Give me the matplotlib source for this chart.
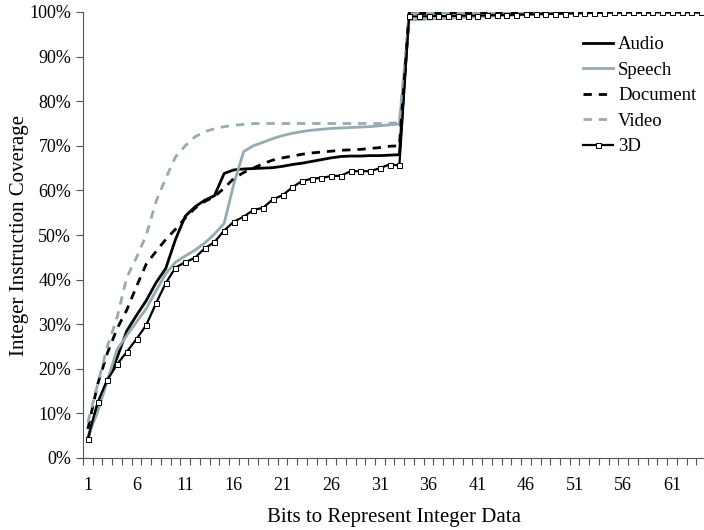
import numpy as np
import matplotlib
matplotlib.use('Agg')
import matplotlib.pyplot as plt

plt.rcParams['font.family'] = ['Liberation Serif', 'DejaVu Serif']

# bits 1..64
bits = list(range(1, 65))

audio = [4.3, 11.9, 17.5, 22.5, 28.5, 32.0, 35.3, 39.3, 42.5, 49.0,
         54.2, 56.3, 57.8, 58.8, 63.8, 64.6, 64.8, 64.9, 65.0, 65.1,
         65.4, 65.8, 66.1, 66.5, 66.9, 67.3, 67.6, 67.7, 67.7, 67.8,
         67.8, 67.9, 68.0, 99.8, 99.85, 99.9, 99.9, 99.9, 99.9, 99.95,
         99.95, 99.95, 99.95, 100, 100, 100, 100, 100, 100, 100,
         100, 100, 100, 100, 100, 100, 100, 100, 100, 100,
         100, 100, 100, 100]
speech = [4.8, 10.3, 17.3, 24.3, 27.5, 30.5, 33.5, 37.5, 41.3, 43.9,
          45.3, 46.6, 48.2, 50.2, 52.6, 61.5, 68.7, 70.0, 70.8, 71.6,
          72.3, 72.8, 73.2, 73.5, 73.7, 73.9, 74.0, 74.1, 74.2, 74.3,
          74.5, 74.7, 74.9, 98.2, 98.3, 98.4, 98.5, 98.6, 98.7, 98.8,
          98.9, 99.0, 99.1, 99.2, 99.3, 99.4, 99.5, 99.6, 99.7, 99.75,
          99.8, 99.85, 99.9, 99.95, 100, 100, 100, 100, 100, 100,
          100, 100, 100, 100]
document = [6.5, 16.5, 23.5, 29.0, 33.2, 38.5, 43.5, 46.3, 49.0, 51.3,
            53.8, 56.0, 57.5, 58.6, 60.5, 62.7, 64.0, 65.0, 66.0, 66.8,
            67.3, 67.7, 68.1, 68.4, 68.6, 68.8, 69.0, 69.1, 69.2, 69.4,
            69.6, 69.9, 70.0, 99.5, 99.6, 99.7, 99.7, 99.75, 99.8, 99.8,
            99.85, 99.85, 99.9, 99.9, 99.9, 99.95, 99.95, 99.95, 100, 100,
            100, 100, 100, 100, 100, 100, 100, 100, 100, 100,
            100, 100, 100, 100]
video = [8.0, 16.5, 25.0, 31.5, 40.5, 45.0, 50.0, 57.5, 62.7, 67.5,
         70.0, 72.0, 73.2, 73.8, 74.3, 74.6, 74.8, 75.0, 75.0, 75.0,
         75.0, 75.0, 75.0, 75.0, 75.0, 75.0, 75.0, 75.0, 75.0, 75.0,
         75.0, 75.1, 75.1, 99.6, 99.7, 99.7, 99.75, 99.8, 99.8, 99.85,
         99.85, 99.9, 99.9, 99.9, 99.95, 99.95, 100, 100, 100, 100,
         100, 100, 100, 100, 100, 100, 100, 100, 100, 100,
         100, 100, 100, 100]
d3 = [4.3, 12.5, 17.5, 21.0, 23.8, 26.7, 29.8, 34.7, 39.2, 42.7,
      43.9, 44.9, 47.0, 48.4, 51.0, 53.0, 54.1, 55.6, 56.1, 58.0,
      58.9, 60.7, 62.1, 62.6, 62.8, 63.2, 63.3, 64.3, 64.3, 64.3,
      65.0, 65.8, 65.6, 99.0, 99.0, 99.05, 99.1, 99.1, 99.15, 99.2,
      99.2, 99.25, 99.3, 99.35, 99.4, 99.45, 99.5, 99.55, 99.6, 99.65,
      99.7, 99.75, 99.8, 99.85, 99.9, 99.9, 99.95, 99.95, 100, 100,
      100, 100, 100, 100]

xtick_labels = [1, 6, 11, 16, 21, 26, 31, 36, 41, 46, 51, 56, 61]

gray = '#95abb2'

fig = plt.figure(figsize=(7.04, 5.30), dpi=100)
ax = fig.add_axes([83/704, 1 - 458/530, (706 - 83)/704, (458 - 12)/530])

lw = 2.0
ax.plot(bits, audio, color='black', lw=lw, label='Audio')
ax.plot(bits, speech, color=gray, lw=lw, label='Speech')
ax.plot(bits, document, color='black', lw=lw, ls=(0, (3, 2.5)), label='Document')
ax.plot(bits, video, color=gray, lw=lw, ls=(0, (3, 2.5)), label='Video')
ax.plot(bits, d3, color='black', lw=1.6, marker='s', ms=3.6, mfc='white',
        mec='black', mew=0.7, label='3D')

ax.set_xlim(0.5, 64.5)
ax.set_ylim(0, 100)

ax.set_yticks(np.arange(0, 101, 10))
ax.set_yticklabels([f'{v}%' for v in range(0, 101, 10)])
ax.set_xticks(np.arange(0.5, 65, 1))
ax.set_xticklabels([])
ax.set_xticks(xtick_labels, minor=True)
ax.set_xticklabels([str(v) for v in xtick_labels], minor=True)
ax.tick_params(axis='x', which='major', direction='out', length=5, width=0.8, color='#555555')
ax.tick_params(axis='x', which='minor', length=0, pad=14, labelsize=13)
ax.tick_params(axis='y', direction='out', length=5, width=0.8, color='#555555', labelsize=13)

for s in ['top', 'right']:
    ax.spines[s].set_visible(False)
for s in ['left', 'bottom']:
    ax.spines[s].set_color('#555555')
    ax.spines[s].set_linewidth(0.8)

ax.set_xlabel('Bits to Represent Integer Data', fontsize=15, labelpad=10)
ax.set_ylabel('Integer Instruction Coverage', fontsize=15, labelpad=0)

fig.legend(loc='upper left', bbox_to_anchor=(583/704, 1 - 36/530), frameon=False,
           fontsize=13.5, handlelength=1.6, handletextpad=0.27, labelspacing=0.45,
           borderpad=0, borderaxespad=0)

fig.savefig('out.png', dpi=100)
